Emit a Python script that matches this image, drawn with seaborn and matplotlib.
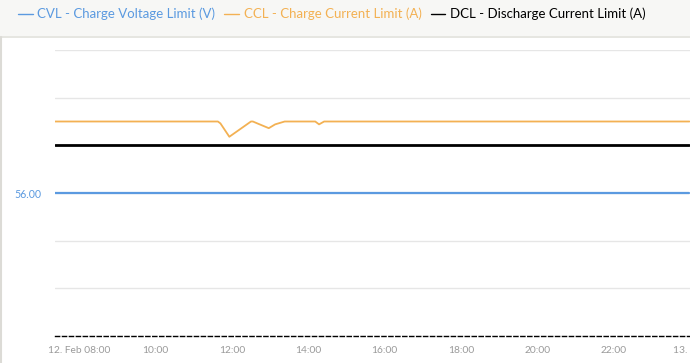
import matplotlib
matplotlib.use("Agg")
import matplotlib.pyplot as plt
from matplotlib.lines import Line2D
from matplotlib.patches import Rectangle
import pandas as pd
import seaborn as sns

# ---- data ----
day = "2024-02-12 "
cvl_times = ["07:22", "23:59"]
cvl_values = [56.0, 56.0]
ccl_times = ["07:22", "11:38", "11:42", "11:56", "12:30", "12:33", "12:40", "12:58",
             "13:08", "13:23", "14:11", "14:17", "14:25", "23:59"]
ccl_values = [225, 225, 223, 209, 225, 225, 223, 218, 222, 225, 225, 222, 225, 225]
dcl_times = ["07:22", "23:59"]
dcl_values = [200, 200]
tick_times = ["2024-02-12 08:00", "2024-02-12 10:00", "2024-02-12 12:00", "2024-02-12 14:00",
              "2024-02-12 16:00", "2024-02-12 18:00", "2024-02-12 20:00", "2024-02-12 22:00",
              "2024-02-13 00:00"]
tick_labels = ["12. Feb 08:00", "10:00", "12:00", "14:00", "16:00", "18:00", "20:00", "22:00", "13. Feb"]
series_labels = ["CVL - Charge Voltage Limit (V)", "CCL - Charge Current Limit (A)",
                 "DCL - Discharge Current Limit (A)"]

C_BLUE = "#5b9ae0"
C_ORANGE = "#f3b153"
C_BLACK = "#000000"

sns.set_style("white")
plt.rcParams["font.family"] = ["Lato", "DejaVu Sans"]

W, H = 690, 363
fig = plt.figure(figsize=(W / 100, H / 100), dpi=100)

# top band + borders
fig.patches.append(Rectangle((0, 1 - 36 / H), 1, 36 / H, transform=fig.transFigure,
                             facecolor="#f7f7f5", edgecolor="none", zorder=0))
fig.lines.append(Line2D([0, 1], [1 - 36.5 / H] * 2, transform=fig.transFigure,
                        color="#e2e1dc", lw=1.2))
fig.lines.append(Line2D([1 / W, 1 / W], [0, 1 - 36.5 / H], transform=fig.transFigure,
                        color="#dcdbd6", lw=1.5))

ax = fig.add_axes([55 / W, 27 / H, 635 / W, 286 / H])
ax2 = ax.twinx()

cvl_df = pd.DataFrame({"t": pd.to_datetime([day + t for t in cvl_times]), "v": cvl_values})
ccl_df = pd.DataFrame({"t": pd.to_datetime([day + t for t in ccl_times]), "v": ccl_values})
dcl_df = pd.DataFrame({"t": pd.to_datetime([day + t for t in dcl_times]), "v": dcl_values})

sns.lineplot(data=cvl_df, x="t", y="v", ax=ax, color=C_BLUE, lw=1.6)
sns.lineplot(data=ccl_df, x="t", y="v", ax=ax2, color=C_ORANGE, lw=1.3)
sns.lineplot(data=dcl_df, x="t", y="v", ax=ax2, color=C_BLACK, lw=2.0)

xmin = pd.Timestamp("2024-02-12 07:22")
xmax = pd.Timestamp("2024-02-13 00:00")
ax.set_xlim(xmin, xmax)
ax2.set_xlim(xmin, xmax)

# voltage axis: gridlines, single label
ax.set_ylim(53, 59)
ax.set_yticks([53, 54, 55, 56, 57, 58, 59])
ax.set_yticklabels(["", "", "", "56.00", "", "", ""])
ax.tick_params(axis="y", length=0, pad=9.5, labelsize=7.6, labelcolor=C_BLUE)
ax.yaxis.grid(True, color="#e6e6e6", lw=1)
ax.xaxis.grid(False)

ax2.set_ylim(0, 300)
ax2.set_yticks([])
ax2.grid(False)

ax.set_xticks(pd.to_datetime(tick_times))
ax.set_xticklabels(tick_labels)
ax.tick_params(axis="x", length=5, width=0.8, color="#ccd6eb", labelsize=7.4,
               labelcolor="#9a9a9a", pad=2)
ax.set_xlabel("")
ax.set_ylabel("")
ax2.set_ylabel("")

for a in (ax, ax2):
    for s in ("top", "right", "left"):
        a.spines[s].set_visible(False)
ax2.spines["bottom"].set_visible(False)
ax.spines["bottom"].set_color("black")
ax.spines["bottom"].set_linewidth(1.0)
ax.spines["bottom"].set_linestyle((0, (3, 2)))

handles = [Line2D([], [], color=c, lw=1) for c in (C_BLUE, C_ORANGE, C_BLACK)]
leg = fig.legend(handles, series_labels, loc="center left",
                 bbox_to_anchor=(18 / W, 1 - 14 / H), ncol=3, frameon=False,
                 handlelength=1.1, handletextpad=0.35, columnspacing=0.7, fontsize=9.5,
                 borderaxespad=0, borderpad=0)
for txt, c in zip(leg.get_texts(), (C_BLUE, C_ORANGE, C_BLACK)):
    txt.set_color(c)

fig.savefig("out.png", dpi=100)
